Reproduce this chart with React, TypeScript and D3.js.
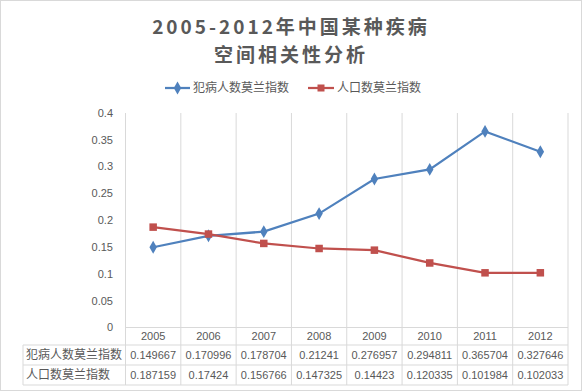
import * as d3 from 'd3';

const years = ['2005', '2006', '2007', '2008', '2009', '2010', '2011', '2012'];
const patientMoran = [0.149667, 0.170996, 0.178704, 0.21241, 0.276957, 0.294811, 0.365704, 0.327646];
const populationMoran = [0.187159, 0.17424, 0.156766, 0.147325, 0.14423, 0.120335, 0.101984, 0.102033];
const yTicks = [0, 0.05, 0.1, 0.15, 0.2, 0.25, 0.3, 0.35, 0.4];
const seriesNames = ['犯病人数莫兰指数', '人口数莫兰指数'];
const titleLines = ['2005-2012年中国某种疾病', '空间相关性分析'];

const W = 582;
const H = 392;
const plot = { left: 125.5, right: 568, top: 113, bottom: 327.5 };
const rows = { header: 345, row1: 365, row2: 385 };
const tableLeft = 23;

const BLUE = '#4f81bd';
const RED = '#c0504d';
const GRID = '#d9d9d9';
const TEXT = '#595959';
const CJK = '"Noto Sans CJK SC", sans-serif';
const NUM = '"Liberation Sans", Arial, sans-serif';

export default function App() {
  const x = d3.scaleBand<string>().domain(years).range([plot.left, plot.right]);
  const y = d3.scaleLinear().domain([0, 0.4]).range([plot.bottom, plot.top]);
  const cx = (d: string) => (x(d) ?? 0) + x.bandwidth() / 2;

  const line = d3
    .line<number>()
    .x((_, i) => cx(years[i]))
    .y((d) => y(d));

  const diamond = d3.symbol(d3.symbolDiamond, 48)()!;
  const edges = [...years.map((d) => x(d) ?? 0), plot.right];

  const tableRows = [
    { name: seriesNames[0], values: patientMoran, top: rows.header, bottom: rows.row1 },
    { name: seriesNames[1], values: populationMoran, top: rows.row1, bottom: rows.row2 },
  ];

  return (
    <div>
      <style>{'body{margin:0}'}</style>
      <svg width={W} height={H} style={{ display: 'block', background: '#fff' }}>
        <rect x={0.5} y={0.5} width={W - 1} height={H - 2} fill="#fff" stroke={GRID} />

        {titleLines.map((t, i) => (
          <text
            key={t}
            x={W / 2}
            y={34 + i * 28}
            textAnchor="middle"
            fontFamily={CJK}
            fontWeight="bold"
            fontSize={19}
            letterSpacing={3}
            fill={TEXT}
          >
            {t}
          </text>
        ))}

        {/* legend */}
        <g fontFamily={CJK} fontSize={12} fill={TEXT}>
          <line x1={165} x2={190} y1={88} y2={88} stroke={BLUE} strokeWidth={2.25} />
          <path d={diamond} transform="translate(177.5,88)" fill={BLUE} />
          <text x={193} y={88} dy="0.35em">{seriesNames[0]}</text>
          <line x1={308} x2={334} y1={88} y2={88} stroke={RED} strokeWidth={2.25} />
          <rect x={317.5} y={84.5} width={7} height={7} fill={RED} />
          <text x={337} y={88} dy="0.35em">{seriesNames[1]}</text>
        </g>

        {/* vertical category gridlines */}
        {edges.map((e, i) => (
          <line key={i} x1={e} x2={e} y1={plot.top} y2={rows.row2} stroke={GRID} />
        ))}
        <line x1={plot.left} x2={plot.right} y1={plot.bottom} y2={plot.bottom} stroke={GRID} />
        {[rows.header, rows.row1, rows.row2].map((r) => (
          <line key={r} x1={tableLeft} x2={plot.right} y1={r} y2={r} stroke={GRID} />
        ))}
        <line x1={tableLeft} x2={tableLeft} y1={rows.header} y2={rows.row2} stroke={GRID} />

        {/* y axis labels */}
        <g fontFamily={NUM} fontSize={11} fill={TEXT} textAnchor="end">
          {yTicks.map((t) => (
            <text key={t} x={113} y={y(t)} dy="0.35em">{String(t)}</text>
          ))}
        </g>

        {/* series */}
        <path d={line(patientMoran) ?? ''} fill="none" stroke={BLUE} strokeWidth={2.25} />
        <path d={line(populationMoran) ?? ''} fill="none" stroke={RED} strokeWidth={2.25} />
        {patientMoran.map((v, i) => (
          <path key={i} d={diamond} transform={`translate(${cx(years[i])},${y(v)})`} fill={BLUE} />
        ))}
        {populationMoran.map((v, i) => (
          <rect key={i} x={cx(years[i]) - 3.75} y={y(v) - 3.75} width={7.5} height={7.5} fill={RED} />
        ))}

        {/* data table */}
        <g fontFamily={NUM} fontSize={11} fill={TEXT} textAnchor="middle">
          {years.map((d) => (
            <text key={d} x={cx(d)} y={(plot.bottom + rows.header) / 2} dy="0.35em">{d}</text>
          ))}
          {tableRows.map((r) =>
            r.values.map((v, i) => (
              <text key={r.name + i} x={cx(years[i])} y={(r.top + r.bottom) / 2} dy="0.35em">
                {String(v)}
              </text>
            ))
          )}
        </g>
        <g fontFamily={CJK} fontSize={12} fill={TEXT}>
          {tableRows.map((r) => (
            <text key={r.name} x={tableLeft + 3} y={(r.top + r.bottom) / 2} dy="0.35em">{r.name}</text>
          ))}
        </g>
      </svg>
    </div>
  );
}
